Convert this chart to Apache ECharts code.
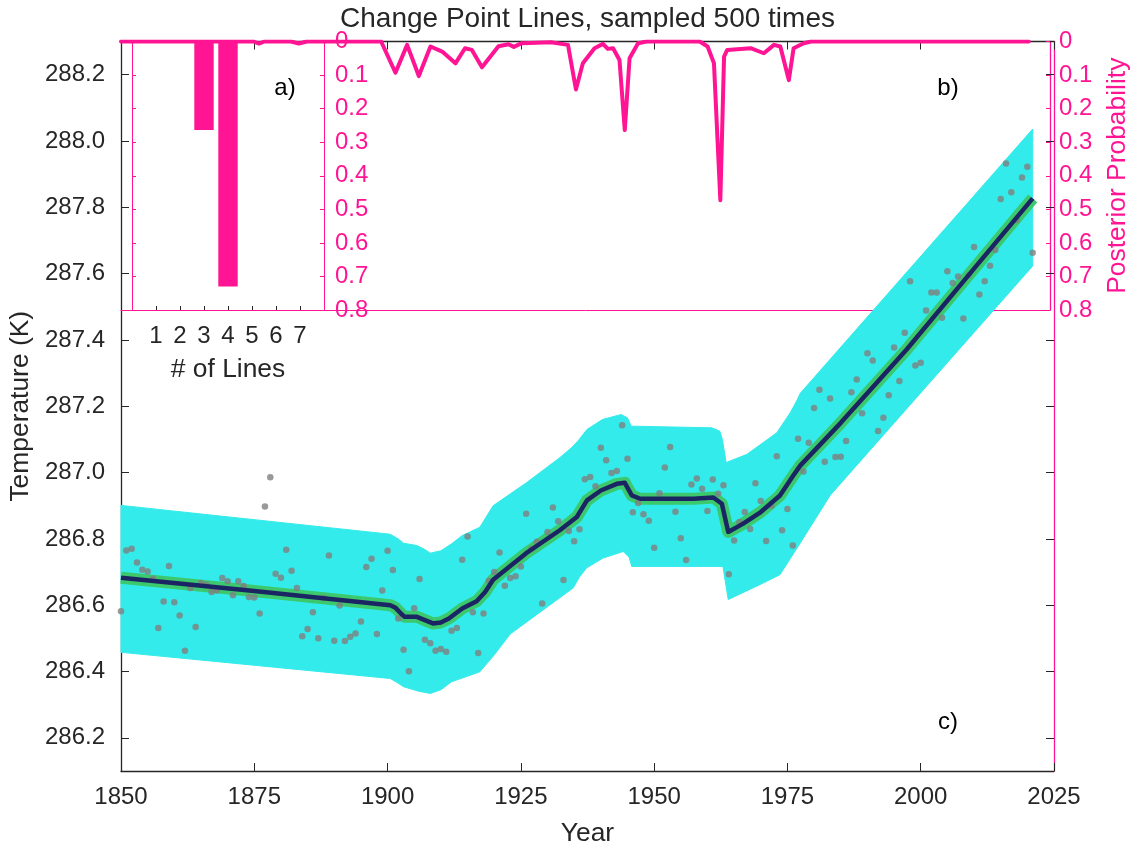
<!DOCTYPE html>
<html>
<head>
<meta charset="utf-8">
<script src="https://cdn.jsdelivr.net/npm/echarts@6/dist/echarts.min.js"></script>
<style>html,body{margin:0;padding:0;background:#fff}#c{width:1139px;height:852px}</style>
</head>
<body>
<div id="c"></div>
<script>
// ---------- data ----------
const startYear = 1850;
const temps = [
286.582,286.765,286.770,286.729,286.707,286.702,286.680,286.531,286.611,286.718,
286.609,286.569,286.463,286.652,286.534,286.667,286.662,286.640,286.644,286.682,
286.672,286.630,286.672,286.658,286.625,286.623,286.575,286.898,286.986,286.695,
286.683,286.767,286.704,286.652,286.506,286.528,286.579,286.500,286.622,286.750,
286.493,286.599,286.492,286.505,286.515,286.551,286.715,286.740,286.513,286.644,
286.764,286.706,286.560,286.466,286.401,286.591,286.679,286.496,286.485,286.463,
286.468,286.460,286.523,286.531,286.737,286.807,286.579,286.456,286.575,286.674,
286.700,286.759,286.659,286.682,286.687,286.717,286.876,286.770,286.791,286.605,
286.821,286.895,286.853,286.676,286.824,286.793,286.829,286.980,286.987,286.959,
287.075,287.037,286.999,287.005,287.143,287.042,286.880,286.908,286.874,286.855,
286.773,286.938,287.015,287.077,286.882,286.802,286.736,286.964,286.982,286.951,
286.884,286.979,286.936,286.962,286.693,286.795,286.851,286.881,286.830,286.968,
286.914,286.794,286.900,287.049,286.826,286.890,286.780,287.102,287.003,287.090,
287.195,287.250,287.033,287.223,287.047,287.048,287.095,287.242,287.281,287.179,
287.360,287.338,287.125,287.165,287.233,287.377,287.276,287.422,287.577,287.323,
287.331,287.489,287.543,287.543,287.467,287.607,287.572,287.591,287.465,287.595,
287.680,287.537,287.577,287.624,287.671,287.825,287.932,287.845,287.762,287.890,
287.922,287.663
];
const meanLine = [
[1850,286.683],[1875,286.643],[1900.5,286.600],[1901.5,286.592],[1902.5,286.575],[1903.2,286.565],
[1905.5,286.565],[1907,286.555],[1908.5,286.545],[1910,286.548],[1911.5,286.560],[1914,286.590],
[1916.7,286.612],[1918.3,286.640],[1919.8,286.677],[1926,286.757],[1932.3,286.826],[1935.5,286.866],
[1937.4,286.916],[1940,286.946],[1943,286.966],[1944.5,286.969],[1945.8,286.931],[1947.4,286.921],
[1957.4,286.921],[1961.1,286.925],[1962.7,286.906],[1963.9,286.821],[1966.7,286.846],[1970,286.881],
[1973.6,286.931],[1976.1,286.991],[1977.4,287.021],[1985,287.150],[1997.4,287.372],[2010,287.615],
[2021,287.827]
];
const bandUpper = [
[1850,286.901],[1900.5,286.814],[1902,286.800],[1903,286.787],[1905.5,286.780],[1907,286.768],
[1908,286.757],[1910,286.764],[1912,286.785],[1914,286.810],[1917.3,286.835],[1919.8,286.900],
[1926.1,286.970],[1932.3,287.045],[1934.5,287.075],[1935.7,287.095],[1937.4,287.130],[1940.3,287.160],
[1943.8,287.175],[1945,287.165],[1945.7,287.140],[1960.8,287.135],[1962.3,287.125],[1962.8,287.100],
[1963.5,287.030],[1967.4,287.055],[1973,287.120],[1975.5,287.180],[1976.7,287.215],[1977.4,287.239],
[2021,288.036]
];
const bandLower = [
[1850,286.458],[1900.5,286.379],[1902,286.365],[1903,286.354],[1906,286.340],[1908,286.334],
[1910,286.345],[1912,286.369],[1917.3,286.399],[1920,286.450],[1923,286.513],[1934.8,286.652],
[1936,286.685],[1937.3,286.712],[1940.4,286.742],[1944.2,286.762],[1945.3,286.745],[1945.8,286.717],
[1962.9,286.717],[1963.9,286.617],[1969.8,286.662],[1973.6,286.692],[1977.5,286.790],[1983,286.931],
[2021,287.623]
];
const probLine = [
[1850,0],[1875,0],[1876,0.006],[1877,0],[1882,0],[1883.5,0.006],[1885,0],[1899,0],
[1901.7,0.093],[1903.9,0.010],[1906.1,0.103],[1908.3,0.015],[1910.5,0.030],[1913,0.065],
[1914.8,0.020],[1916.1,0.025],[1918,0.077],[1921.1,0.014],[1923,0.008],[1924,0.016],
[1925.5,0.005],[1931,0.002],[1934.2,0.010],[1935.7,0.143],[1937,0.065],[1939.2,0.020],
[1940.8,0.007],[1941.7,0.022],[1942.7,0.020],[1943.9,0.055],[1944.9,0.264],[1945.8,0.050],
[1947.4,0.005],[1949,0],[1959,0],[1960.5,0.015],[1961.7,0.065],[1962.9,0.473],[1963.6,0.045],
[1964.2,0.025],[1966.1,0.023],[1968.6,0.020],[1971.1,0.035],[1973,0.010],[1974.2,0.015],
[1975.8,0.115],[1976.7,0.020],[1978.6,0.005],[1980,0],[2021,0]
];
const lineCounts = [3, 4];
const lineProbs = [0.264, 0.730];
const tempTicks = [286.2,286.4,286.6,286.8,287.0,287.2,287.4,287.6,287.8,288.0,288.2];
const probTicks = [0,0.1,0.2,0.3,0.4,0.5,0.6,0.7,0.8];
const countTicks = [1,2,3,4,5,6,7];

// ---------- style ----------
const FONT = "'Liberation Sans', Arial, Helvetica, sans-serif";
const INK = '#262626';
const PINK = '#FF1493';
const CYAN = '#33EBEB';
const GREEN = '#3CC86C';
const NAVY = '#1C2564';
const GRAY = '#808080';

const scatterData = temps.map((t, i) => [startYear + i, t]);

const chart = echarts.init(document.getElementById('c'), null, {renderer: 'canvas'});

const noSplit = {show: false};
const option = {
  animation: false,
  backgroundColor: '#fff',
  textStyle: {fontFamily: FONT},
  grid: [
    {left: 121, right: 85, top: 41.5, bottom: 73.7},
    {left: 132, top: 41.5, width: 192, height: 268.5},
    {left: 121, top: 41.5, width: 933, height: 268.5}
  ],
  xAxis: [
    {gridIndex: 0, type: 'value', min: 1850, max: 2025, interval: 25, position: 'bottom',
     axisLine: {onZero: false, lineStyle: {color: INK, width: 1.3}},
     axisTick: {inside: true, length: 8, lineStyle: {color: INK}},
     axisLabel: {fontSize: 24, color: INK, margin: 14, fontFamily: FONT, formatter: v => String(v)},
     splitLine: noSplit,
     name: 'Year', nameLocation: 'middle', nameGap: 50,
     nameTextStyle: {fontSize: 26.4, color: INK, fontFamily: FONT}},
    {gridIndex: 0, type: 'value', min: 1850, max: 2025, interval: 25, position: 'top',
     axisLine: {onZero: false, lineStyle: {color: INK, width: 1.3}},
     axisTick: {inside: true, length: 8, lineStyle: {color: INK}},
     axisLabel: {show: false}, splitLine: noSplit},
    {gridIndex: 1, type: 'value', min: 0, max: 8, position: 'bottom',
     axisLine: {onZero: false, lineStyle: {color: PINK, width: 1}},
     axisTick: {inside: true, length: 4, customValues: countTicks, lineStyle: {color: INK}},
     axisLabel: {fontSize: 24, color: INK, margin: 14, customValues: countTicks, fontFamily: FONT},
     splitLine: noSplit,
     name: '# of Lines', nameLocation: 'middle', nameGap: 47,
     nameTextStyle: {fontSize: 26.4, color: INK, fontFamily: FONT}},
    {gridIndex: 2, type: 'value', min: 1850, max: 2025, position: 'bottom',
     axisLine: {onZero: false, lineStyle: {color: PINK, width: 1}},
     axisTick: {show: false}, axisLabel: {show: false}, splitLine: noSplit}
  ],
  yAxis: [
    {gridIndex: 0, type: 'value', min: 286.1, max: 288.3, position: 'left',
     axisLine: {show: true, onZero: false, lineStyle: {color: INK, width: 1.3}},
     axisTick: {show: true, inside: true, length: 8, customValues: tempTicks, lineStyle: {color: INK}},
     axisLabel: {fontSize: 24, color: INK, margin: 16, customValues: tempTicks, fontFamily: FONT,
                 formatter: v => Number(v).toFixed(1)},
     splitLine: noSplit,
     name: 'Temperature (K)', nameLocation: 'middle', nameRotate: 90, nameGap: 80,
     nameTextStyle: {fontSize: 26.4, color: INK, fontFamily: FONT}},
    {gridIndex: 0, type: 'value', min: 286.1, max: 288.3, position: 'right',
     axisLine: {show: true, onZero: false, lineStyle: {color: PINK, width: 1.3}},
     axisTick: {show: true, inside: true, length: 8, customValues: tempTicks, lineStyle: {color: INK}},
     axisLabel: {show: false}, splitLine: noSplit},
    {gridIndex: 1, type: 'value', min: 0, max: 0.8, inverse: true, position: 'left',
     axisLine: {show: true, onZero: false, lineStyle: {color: PINK, width: 1}},
     axisTick: {show: true, inside: true, length: 4, customValues: probTicks, lineStyle: {color: PINK}},
     axisLabel: {show: false}, splitLine: noSplit},
    {gridIndex: 1, type: 'value', min: 0, max: 0.8, inverse: true, position: 'right',
     axisLine: {show: true, onZero: false, lineStyle: {color: PINK, width: 1}},
     axisTick: {show: true, inside: true, length: 4, customValues: probTicks, lineStyle: {color: PINK}},
     axisLabel: {fontSize: 24, color: PINK, margin: 11, customValues: probTicks, fontFamily: FONT,
                 formatter: v => String(Math.round(v * 10) / 10)},
     splitLine: noSplit},
    {gridIndex: 2, type: 'value', min: 0, max: 0.8, inverse: true, position: 'right',
     axisLine: {show: true, onZero: false, lineStyle: {color: PINK, width: 1.3}},
     axisTick: {show: true, inside: true, length: 4, customValues: probTicks, lineStyle: {color: PINK}},
     axisLabel: {fontSize: 24, color: PINK, margin: 9, customValues: probTicks, fontFamily: FONT,
                 formatter: v => String(Math.round(v * 10) / 10)},
     splitLine: noSplit,
     name: 'Posterior Probability', nameLocation: 'middle', nameRotate: 90, nameGap: 55,
     nameTextStyle: {fontSize: 26.4, color: PINK, fontFamily: FONT}}
  ],
  series: [
    {type: 'custom', xAxisIndex: 0, yAxisIndex: 0, z: 1, silent: true,
     data: [[bandUpper[0][0], bandUpper[0][1]]],
     renderItem: function (params, api) {
       const pts = bandUpper.map(d => api.coord(d))
         .concat(bandLower.slice().reverse().map(d => api.coord(d)));
       return {type: 'polygon', shape: {points: pts}, style: {fill: CYAN, stroke: CYAN, lineWidth: 1, lineJoin: 'round'}};
     }},
    {type: 'line', xAxisIndex: 0, yAxisIndex: 0, z: 2, data: meanLine, showSymbol: false, silent: true,
     lineStyle: {color: GREEN, width: 12, cap: 'butt', join: 'round'}},
    {type: 'scatter', xAxisIndex: 0, yAxisIndex: 0, z: 3, data: scatterData, symbolSize: 6.5, silent: true,
     itemStyle: {color: GRAY}},
    {type: 'line', xAxisIndex: 0, yAxisIndex: 0, z: 4, data: meanLine, showSymbol: false, silent: true,
     lineStyle: {color: NAVY, width: 4.5, cap: 'butt', join: 'round'}},
    {type: 'bar', xAxisIndex: 2, yAxisIndex: 2, z: 5, silent: true, barWidth: 19.4,
     data: lineCounts.map((c, i) => [c, lineProbs[i]]),
     itemStyle: {color: PINK}},
    {type: 'line', xAxisIndex: 3, yAxisIndex: 4, z: 10, data: probLine, showSymbol: false, silent: true,
     lineStyle: {color: PINK, width: 4, join: 'round', cap: 'round'}}
  ],
  graphic: [
    {type: 'text', z: 100, style: {text: 'Change Point Lines, sampled 500 times', x: 587.5, y: 19,
      align: 'center', verticalAlign: 'middle', fontSize: 28, fill: INK, fontFamily: FONT}},
    {type: 'text', z: 100, style: {text: 'a)', x: 285, y: 88, align: 'center', verticalAlign: 'middle',
      fontSize: 24, fill: '#000', fontFamily: FONT}},
    {type: 'text', z: 100, style: {text: 'b)', x: 948, y: 88, align: 'center', verticalAlign: 'middle',
      fontSize: 24, fill: '#000', fontFamily: FONT}},
    {type: 'text', z: 100, style: {text: 'c)', x: 948, y: 722, align: 'center', verticalAlign: 'middle',
      fontSize: 24, fill: '#000', fontFamily: FONT}}
  ]
};
chart.setOption(option);
</script>
</body>
</html>
